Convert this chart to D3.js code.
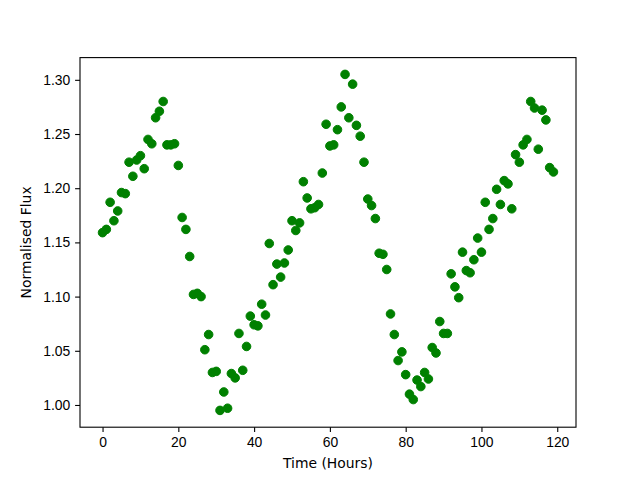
<!DOCTYPE html>
<html>
<head>
<meta charset="utf-8">
<script src="https://cdn.jsdelivr.net/npm/d3@7/dist/d3.min.js"></script>
<style>
  body { margin: 0; background: #fff; }
  svg { display: block; font-family: "DejaVu Sans", sans-serif; }
</style>
</head>
<body>
<script>
// datos: tiempo en horas y flujo normalizado
const hours = d3.range(0, 120);
const flux = [
  1.159, 1.162, 1.187, 1.170, 1.179, 1.196, 1.195, 1.224, 1.211, 1.226,
  1.230, 1.218, 1.245, 1.241, 1.265, 1.271, 1.280, 1.240, 1.240, 1.241,
  1.221, 1.173, 1.162, 1.137, 1.102, 1.103, 1.100, 1.051, 1.065, 1.030,
  1.031, 0.995, 1.012, 0.997, 1.029, 1.025, 1.066, 1.032, 1.054, 1.082,
  1.074, 1.073, 1.093, 1.083, 1.149, 1.111, 1.130, 1.118, 1.131, 1.143,
  1.170, 1.161, 1.168, 1.206, 1.191, 1.181, 1.182, 1.185, 1.214, 1.259,
  1.239, 1.240, 1.254, 1.275, 1.305, 1.265, 1.296, 1.258, 1.248, 1.224,
  1.190, 1.184, 1.172, 1.140, 1.139, 1.125, 1.084, 1.065, 1.041, 1.049,
  1.028, 1.010, 1.005, 1.023, 1.017, 1.030, 1.024, 1.053, 1.048, 1.077,
  1.066, 1.066, 1.121, 1.109, 1.099, 1.141, 1.124, 1.122, 1.134, 1.154,
  1.141, 1.187, 1.162, 1.172, 1.199, 1.185, 1.207, 1.204, 1.181, 1.231,
  1.224, 1.240, 1.245, 1.280, 1.274, 1.236, 1.272, 1.263, 1.219, 1.215
];
const xTicks = [0, 20, 40, 60, 80, 100, 120];
const yTicks = [1.00, 1.05, 1.10, 1.15, 1.20, 1.25, 1.30];

const width = 640;
const height = 480;
const margin = {left: 80, right: 64, top: 57.6, bottom: 52.8};
const innerW = width - margin.left - margin.right;
const innerH = height - margin.top - margin.bottom;

const svg = d3.select('body').append('svg')
  .attr('width', width)
  .attr('height', height);

// rango con margen del 5% como matplotlib
const xMin = d3.min(hours), xMax = d3.max(hours);
const yMin = d3.min(flux), yMax = d3.max(flux);
const xPad = (xMax - xMin) * 0.05;
const yPad = (yMax - yMin) * 0.05;

const x = d3.scaleLinear()
  .domain([xMin - xPad, xMax + xPad])
  .range([0, innerW]);
const y = d3.scaleLinear()
  .domain([yMin - yPad, yMax + yPad])
  .range([innerH, 0]);

const g = svg.append('g')
  .attr('transform', `translate(${margin.left},${margin.top})`);

// puntos
g.selectAll('circle')
  .data(hours)
  .enter()
  .append('circle')
  .attr('cx', (d, i) => x(hours[i]))
  .attr('cy', (d, i) => y(flux[i]))
  .attr('r', 4.3)
  .attr('fill', '#008000')
  .attr('stroke', '#008000')
  .attr('stroke-width', 1);

// ejes
const xAxis = g.append('g')
  .attr('transform', `translate(0,${innerH})`)
  .call(d3.axisBottom(x).tickValues(xTicks).tickSize(4.9).tickPadding(4.9).tickFormat(d3.format('d')));
const yAxis = g.append('g')
  .call(d3.axisLeft(y).tickValues(yTicks).tickSize(4.9).tickPadding(4.9).tickFormat(d3.format('.2f')));

[xAxis, yAxis].forEach(a => {
  a.select('.domain').remove();
  a.selectAll('line').attr('stroke', '#000').attr('stroke-width', 1.1);
  a.selectAll('text').style('font-size', '13.9px').attr('fill', '#000');
});

// marco
g.append('rect')
  .attr('width', innerW)
  .attr('height', innerH)
  .attr('fill', 'none')
  .attr('stroke', '#000')
  .attr('stroke-width', 1.1);

// etiquetas
svg.append('text')
  .attr('x', margin.left + innerW / 2)
  .attr('y', 468)
  .attr('text-anchor', 'middle')
  .style('font-size', '13.9px')
  .text('Time (Hours)');

svg.append('text')
  .attr('transform', `translate(31,${margin.top + innerH / 2}) rotate(-90)`)
  .attr('text-anchor', 'middle')
  .style('font-size', '13.9px')
  .text('Normalised Flux');
</script>
</body>
</html>
